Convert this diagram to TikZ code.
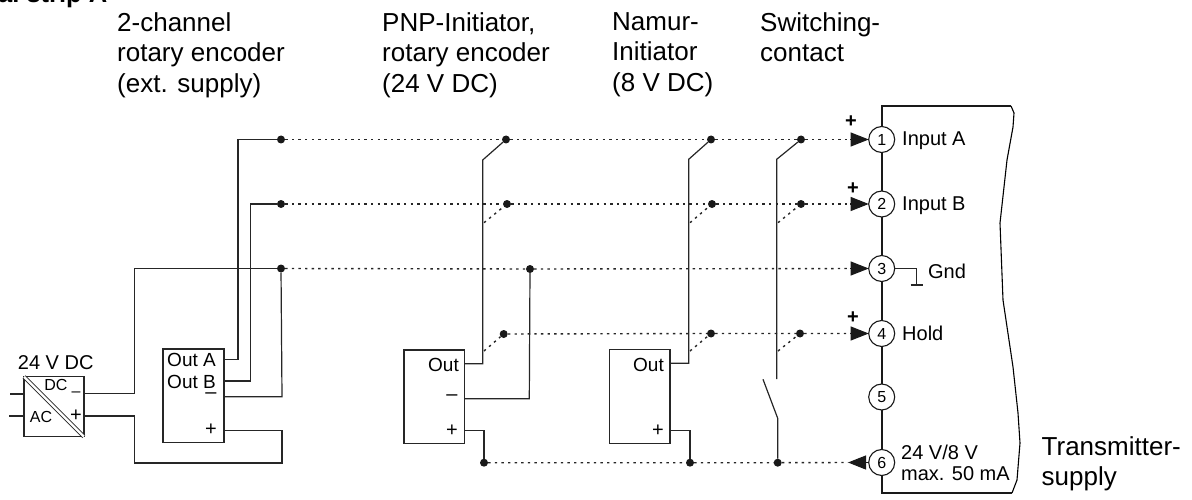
\documentclass[tikz,border=0pt]{standalone}
\usepackage{fontspec}
\setmainfont{Liberation Sans}
\usetikzlibrary{arrows.meta}
\tikzset{
    wire/.style={line width=1.2pt, draw=black!85},
    dotline/.style={line width=1.4pt, draw=black!85, dash pattern=on 2.4pt off 4.2pt},
    dot/.style={circle, fill=black!90, inner sep=0pt, minimum size=8pt},
    terminal/.style={circle, draw=black!90, fill=white, line width=1.1pt, inner sep=0pt, minimum size=26pt, font=\fontsize{16}{16}\selectfont},
    modbox/.style={draw=black!85, line width=1.2pt, inner sep=0pt},
    tip/.style={line width=1.1pt, draw=black!90, -{Triangle[length=18pt,width=14pt]}},
    big/.style={inner sep=0pt, anchor=north west, align=left, font=\fontsize{26}{30.7}\selectfont},
    mid/.style={inner sep=0pt, font=\fontsize{20}{21.5}\selectfont},
    small/.style={inner sep=0pt, font=\fontsize{19}{21.5}\selectfont},
    tiny/.style={inner sep=0pt, font=\fontsize{16}{16}\selectfont}
}
\begin{document}
\begin{tikzpicture}[x=1pt, y=-1pt]
    \clip (0,0) rectangle (1192,500);
    % titles
    \node[inner sep=0pt, anchor=base east, font=\fontsize{25.5}{26}\selectfont\bfseries] (title) at (107.5,3) {al strip A};
    \node[big] (enctext) at (117,12) {2-channel\\rotary encoder\\(ext. supply)};
    \node[big] (pnptext) at (382,12) {PNP-Initiator,\\rotary encoder\\(24 V DC)};
    \node[big] (namtext) at (612,12) {Namur-\\Initiator\\(8 V DC)};
    \node[big] (swtext) at (760,12) {Switching-\\contact};
    \node[big] (suptext) at (1041.5,436) {Transmitter-\\supply};
    % transmitter
    \draw[line width=2.2pt, draw=black!90] (1011,106) -- (881.7,106) -- (881.7,493) -- (1012,493);
    \draw[line width=1.1pt] (1011,106) -- (1014,113) -- (1013,127) -- (1007,160) -- (1000,223) -- (1003,300)
        -- (1013,367) -- (1018,413) -- (1020,443) -- (1017,480) -- (1012,493);
    \foreach[count=\x] \y in {139.5,204,268.5,333.5,397,462.5}
    {
        \node[terminal] (t\x) at (881.7,\y) {\x};
    }
    \node[mid, anchor=west] (ina) at (902,141) {Input A};
    \node[mid, anchor=west] (inb) at (902,206) {Input B};
    \node[mid, anchor=west] (hold) at (902,333.5) {Hold};
    \node[mid] (gnd) at (947,271) {Gnd};
    \node[mid, anchor=west, align=left] (range) at (901,463) {24 V/8 V\\max. 50 mA};
    \foreach[count=\x] \a/\b in {851/121.5,853/189,853/318}
    {
        \node[mid, font=\fontsize{20}{20}\selectfont\bfseries] (p\x) at (\a,\b) {+};
    }
    \coordinate (gndup) at (916.7,268.5);
    \coordinate (gndlo) at (916.7,285);
    \draw[wire] (t3) -- (gndup) -- (gndlo);
    \draw[wire] (910.7,285) -- (922.7,285);
    % junctions
    \foreach \n/\a/\b in {a1/281/139.5, a2/506/139.5, a3/711/139.5, a4/801/139.5,
        b1/281/204, b2/507/204, b3/712/204, b4/801/204,
        c1/281/268.5, c2/530/269,
        d1/503.7/334, d2/711/333.5, d3/800/333.5,
        e1/484/462.7, e2/690/462.7, e3/777.7/462.7}
    {
        \node[dot] (\n) at (\a,\b) {};
    }
    \coordinate (tipa) at (868.7,139.5);
    \coordinate (tipb) at (868.7,204);
    \coordinate (tipc) at (868.7,268.5);
    \coordinate (tipd) at (868.7,333.5);
    \coordinate (tipe) at (848,462.5);
    \draw[dotline] (a1) -- (a2) -- (a3) -- (a4) -- (tipa);
    \draw[dotline] (b1) -- (b2) -- (b3) -- (b4) -- (tipb);
    \draw[dotline] (c1) -- (c2) -- (tipc);
    \draw[dotline] (d1) -- (d2) -- (d3) -- (tipd);
    \draw[dotline] (e1) -- (e2) -- (e3) -- (tipe);
    \draw[tip] (850,139.5) -- (tipa);
    \draw[tip] (850,204) -- (tipb);
    \draw[tip] (850,268.5) -- (tipc);
    \draw[tip] (850,333.5) -- (tipd);
    \draw[tip] (t6.west) -- (tipe);
    % power supply
    \node[modbox, minimum width=60pt, minimum height=60pt] (conv) at (54,406.7) {};
    \draw[line width=0.9pt, double, double distance=2.2pt, draw=black!85, shorten <=1pt, shorten >=1pt] (conv.north west) -- (conv.south east);
    \node[mid] (convtext) at (55.7,363) {24 V DC};
    \node[tiny] (dc) at (56,385) {DC};
    \node[tiny] (ac) at (41,417) {AC};
    \node[tiny] (convm) at (76,394) {--};
    \node[mid] (convp) at (76,415.5) {+};
    \draw[wire] (10,394) -- (conv.west |- 0,394);
    \draw[wire] (9,416) -- (conv.west |- 0,416);
    % rotary encoder
    \node[modbox, minimum width=61pt, minimum height=93.7pt] (enc) at (193.5,395.8) {};
    \node[small, anchor=east] (outa) at (216,360) {Out A};
    \node[small, anchor=east] (outb) at (216,382) {Out B};
    \node[mid] (encm) at (211,396) {--};
    \node[mid] (encp) at (211,430) {+};
    \draw[wire] (enc.east |- 0,359.5) -- (238,359.5) -- (238,139.5) -- (a1);
    \draw[wire] (enc.east |- 0,381) -- (250.4,381) -- (250.4,204) -- (b1);
    \draw[wire] (enc.east |- 0,396.7) -- (282,396.7) -- (c1);
    \draw[wire] (conv.east |- 0,393.7) -- (134.4,393.7) -- (134.4,268.5) -- (c1);
    \draw[wire] (conv.east |- 0,416) -- (134.4,416) -- (134.4,463) -- (282,463) -- (282,430.7) -- (enc.east |- 0,430.7);
    % pnp initiator
    \node[modbox, minimum width=60.3pt, minimum height=93.7pt] (pnp) at (434.2,396.8) {};
    \node[small, anchor=east] (pnpout) at (459,365) {Out};
    \node[mid] (pnpm) at (452,398) {--};
    \node[mid] (pnpp) at (452,431) {+};
    \draw[wire] (pnp.east |- 0,363.7) -- (482.7,363.7) -- (482.7,160) -- (a2);
    \draw[wire] (pnp.east |- 0,398.7) -- (529.3,398.7) -- (c2);
    \draw[wire] (pnp.east |- 0,430.7) -- (484,430.7) -- (e1);
    \draw[dotline] (484,222.7) -- (b2);
    \draw[dotline] (484,351) -- (d1);
    % namur initiator
    \node[modbox, minimum width=60.3pt, minimum height=94.4pt] (nam) at (639.8,396.5) {};
    \node[small, anchor=east] (namout) at (664,365) {Out};
    \node[mid] (namp) at (658,431) {+};
    \draw[wire] (nam.east |- 0,363.3) -- (688.7,363.3) -- (688.7,159.3) -- (a3);
    \draw[wire] (nam.east |- 0,430.7) -- (690,430.7) -- (e2);
    \draw[dotline] (690,222.7) -- (b3);
    \draw[dotline] (690,351) -- (d2);
    % switching contact
    \draw[wire] (776.7,379) -- (776.7,159.3) -- (a4);
    \draw[wire] (763,379.3) -- (777.7,418.3) -- (e3);
    \draw[dotline] (778,222.7) -- (b4);
    \draw[dotline] (778,351) -- (d3);
\end{tikzpicture}
\end{document}
